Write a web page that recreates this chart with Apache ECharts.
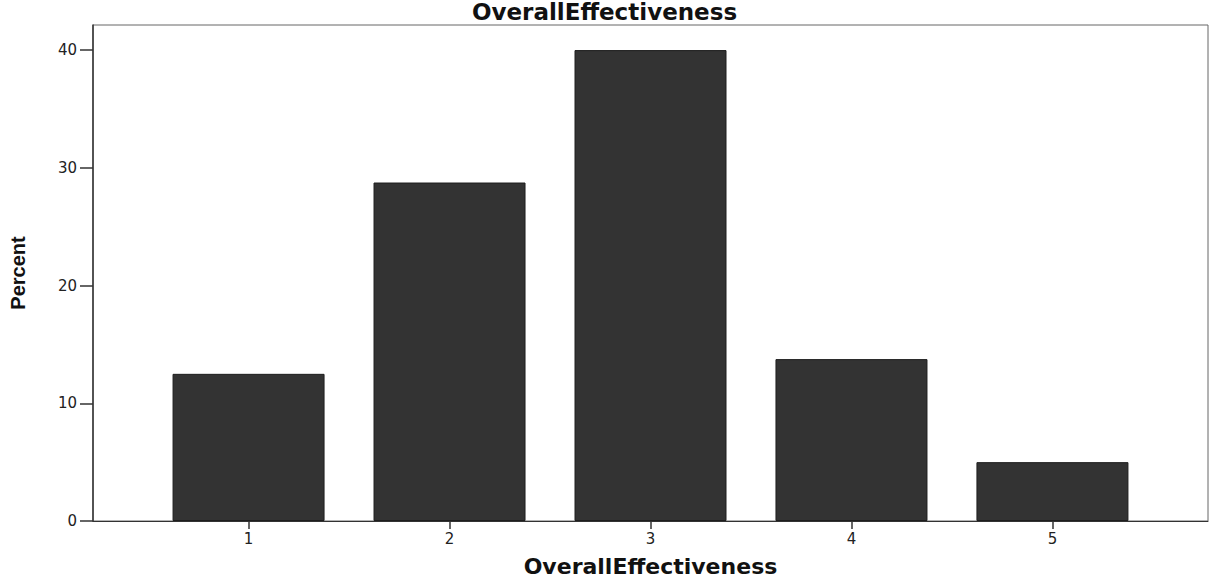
<!DOCTYPE html>
<html>
<head>
<meta charset="utf-8">
<script src="https://cdn.jsdelivr.net/npm/echarts@6/dist/echarts.min.js"></script>
<style>
html,body{margin:0;padding:0;background:#fff;}
#chart{width:1209px;height:582px;}
</style>
</head>
<body>
<div id="chart"></div>
<script>
// Data
const categories = [1, 2, 3, 4, 5];
const percentValues = [12.5, 28.75, 40, 13.75, 5];
const xTickLabels = [1, 2, 3, 4, 5];
const yTickLabels = [0, 10, 20, 30, 40];

const chart = echarts.init(document.getElementById('chart'), null, {renderer: 'svg'});
const seriesData = categories.map((c, i) => [c, percentValues[i]]);

chart.setOption({
  animation: false,
  backgroundColor: '#ffffff',
  title: {
    text: 'OverallEffectiveness',
    left: 'center',
    top: 0,
    padding: 0,
    textStyle: {fontFamily: 'DejaVu Sans', fontWeight: 'bold', fontSize: 23, lineHeight: 23, color: '#111'}
  },
  grid: {
    left: 90, right: 1, top: 25, bottom: 59,
    show: true, borderColor: '#666', borderWidth: 1, backgroundColor: '#fff'
  },
  xAxis: {
    type: 'value',
    min: 0.226, max: 5.774,
    name: 'OverallEffectiveness',
    nameLocation: 'middle',
    nameGap: 34,
    nameTextStyle: {fontFamily: 'DejaVu Sans', fontWeight: 'bold', fontSize: 22, color: '#111'},
    splitLine: {show: false},
    axisLine: {show: true, lineStyle: {color: '#333', width: 1}},
    axisTick: {show: true, customValues: xTickLabels, length: 8, lineStyle: {color: '#333', width: 1.5}},
    axisLabel: {customValues: xTickLabels, margin: 10, fontFamily: 'DejaVu Sans', fontSize: 15, color: '#222'}
  },
  yAxis: {
    type: 'value',
    min: 0, max: 42.13,
    name: 'Percent',
    nameLocation: 'middle',
    nameRotate: 90,
    nameGap: 65,
    nameTextStyle: {fontFamily: 'Liberation Sans', fontWeight: 'bold', fontSize: 20, color: '#111'},
    splitLine: {show: false},
    axisLine: {show: true, lineStyle: {color: '#333', width: 1.5}},
    axisTick: {show: true, customValues: yTickLabels, length: 13, lineStyle: {color: '#333', width: 1.5}},
    axisLabel: {customValues: yTickLabels, margin: 16, fontFamily: 'DejaVu Sans', fontSize: 15, color: '#222'}
  },
  series: [{
    type: 'bar',
    data: seriesData,
    barWidth: 152,
    itemStyle: {color: '#333333', borderColor: '#1e1e1e', borderWidth: 1}
  }]
});
</script>
</body>
</html>
